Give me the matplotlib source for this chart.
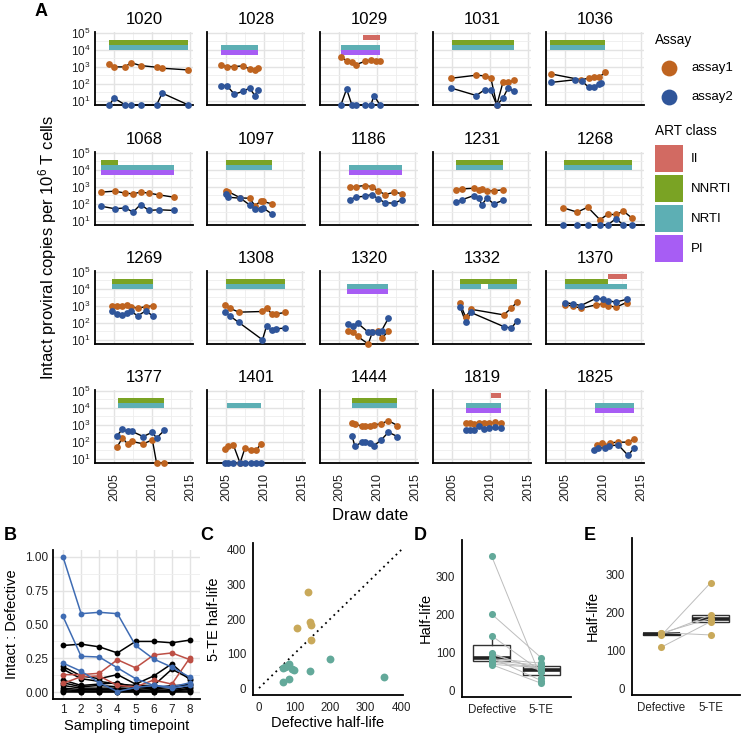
"""Intact proviral reservoir over time + half-life comparisons."""

import matplotlib

matplotlib.use("Agg")
import matplotlib.pyplot as plt
import numpy as np
from matplotlib.patches import Rectangle
from matplotlib.ticker import NullFormatter

plt.rcParams["font.family"] = ["Liberation Sans", "DejaVu Sans"]
plt.rcParams["mathtext.fontset"] = "custom"
plt.rcParams["mathtext.rm"] = "Liberation Sans"
plt.rcParams["mathtext.it"] = "Liberation Sans:italic"
plt.rcParams["mathtext.bf"] = "Liberation Sans:bold"

# --- data panel A (log10 copies per 1e6 T cells, None = undetected) ---
patients = ["1020", "1028", "1029", "1031", "1036",
            "1068", "1097", "1186", "1231", "1268",
            "1269", "1308", "1320", "1332", "1370",
            "1377", "1401", "1444", "1819", "1825"]

assay1_dates = [
    [2004.4, 2005.0, 2006.5, 2007.2, 2008.5, 2010.6, 2011.35, 2014.8],
    [2004.3, 2005.1, 2006.1, 2007.2, 2008.1, 2008.8, 2009.2],
    [2005.25, 2006.0, 2006.7, 2007.3, 2008.4, 2009.2, 2009.9, 2010.4],
    [2004.9, 2008.2, 2009.3, 2010.1, 2010.9, 2011.7, 2012.4, 2013.1],
    [2003.1, 2007.1, 2008.1, 2008.8, 2009.5, 2010.25],
    [2003.3, 2005.1, 2006.5, 2007.5, 2008.5, 2009.6, 2010.9, 2012.9],
    [2005.0, 2005.3, 2006.9, 2008.1, 2008.8, 2009.6, 2009.9, 2011.0],
    [2006.4, 2007.2, 2008.4, 2009.3, 2010.2, 2011.1, 2012.3, 2013.3],
    [2005.5, 2006.3, 2007.9, 2008.6, 2008.9, 2009.6, 2010.5, 2011.7],
    [2004.8, 2006.6, 2008.0, 2009.6, 2010.6, 2011.7, 2012.7, 2013.8],
    [2004.8, 2005.35, 2006.0, 2006.7, 2007.3, 2008.1, 2009.2, 2010.1],
    [2004.9, 2005.5, 2006.7, 2009.8, 2010.35, 2011.0, 2011.6, 2012.8],
    [2006.15, 2006.8, 2007.45, 2008.85, 2009.4, 2010.1, 2010.6, 2011.5],
    [2006.05, 2006.8, 2007.5, 2011.8, 2012.8, 2013.6],
    [2005.0, 2006.0, 2007.1, 2009.1, 2010.0, 2010.65, 2011.7, 2013.1],
    [2005.4, 2006.1, 2006.8, 2007.4, 2008.85, 2010.05, 2010.6, 2011.6],
    [2004.9, 2005.3, 2005.95, 2006.85, 2007.5, 2008.25, 2008.95, 2009.6],
    [2006.7, 2007.1, 2008.0, 2008.4, 2009.1, 2009.6, 2010.5, 2011.5, 2012.7],
    [2006.85, 2007.4, 2007.9, 2008.6, 2009.25, 2009.9, 2010.7, 2011.4],
    [2009.2, 2009.9, 2010.3, 2010.9, 2012.0, 2013.3, 2014.1],
]
assay1_log = [
    [3.16, 3.0, 3.0, 3.25, 3.08, 2.98, 2.92, 2.82],
    [3.12, 3.02, 3.02, 3.06, 2.88, 2.82, 2.96],
    [3.57, 3.37, 3.28, 3.14, 3.33, 3.41, 3.37, 3.35],
    [2.33, 2.51, 2.47, 2.37, None, 2.08, 2.08, 2.2],
    [2.59, 2.24, 2.33, 2.39, 2.39, 2.67],
    [2.69, 2.75, 2.63, 2.59, 2.69, 2.63, 2.53, 2.39],
    [2.78, 2.72, 2.35, 2.33, 1.9, 2.16, 2.14, 2.0],
    [2.98, 3.02, 3.08, 3.02, 2.75, 2.55, 2.69, 2.59],
    [2.84, 2.88, 2.92, 2.84, 2.88, 2.75, 2.78, 2.82],
    [1.76, 1.51, 1.8, 1.06, 1.37, 1.37, 1.57, 1.16],
    [3.0, 3.02, 3.0, 3.04, 2.96, 2.86, 2.96, 3.0],
    [3.06, 2.86, 2.63, 2.67, 2.88, 2.53, 2.53, 2.61],
    [1.53, 1.45, 1.2, None, 1.45, 1.53, 1.1, 1.49],
    [3.16, 2.33, 2.8, 2.47, 2.86, 3.25],
    [3.06, 3.0, 2.86, 3.06, 3.12, 3.02, 2.92, 3.2],
    [1.69, 2.22, 1.88, 2.02, 1.88, 2.12, None, None],
    [1.59, 1.75, 1.84, None, 1.63, 1.49, 1.49, 1.88],
    [3.12, 3.06, 2.92, 2.96, 2.92, 3.0, 3.06, 3.25, 2.96],
    [3.1, 3.1, 3.06, 3.12, 3.1, 3.1, 3.16, 3.1],
    [1.84, 1.94, 1.75, 1.94, 1.98, 1.98, 2.18],
]
assay2_dates = [
    [2004.4, 2005.0, 2006.5, 2007.2, 2008.5, 2010.6, 2011.35, 2014.8],
    [2004.3, 2005.1, 2006.1, 2007.2, 2008.1, 2008.8, 2009.2],
    [2005.25, 2006.0, 2006.7, 2007.3, 2008.4, 2009.2, 2009.6, 2010.4],
    [2004.9, 2008.2, 2009.3, 2010.1, 2010.9, 2011.7, 2012.4, 2013.1],
    [2003.1, 2006.3, 2007.2, 2008.1, 2008.8, 2009.5, 2009.8],
    [2003.3, 2005.1, 2006.5, 2007.5, 2008.5, 2009.6, 2010.9, 2012.9],
    [2004.95, 2005.3, 2006.9, 2008.1, 2008.8, 2009.6, 2009.9, 2011.0],
    [2006.4, 2007.2, 2008.4, 2009.3, 2010.2, 2011.1, 2012.3, 2013.3],
    [2005.5, 2006.3, 2007.9, 2008.6, 2008.9, 2009.6, 2010.5, 2011.7],
    [2004.8, 2006.6, 2008.0, 2009.6, 2010.6, 2011.7, 2012.7, 2013.8],
    [2004.8, 2005.35, 2006.0, 2006.7, 2007.3, 2008.1, 2009.2, 2010.1],
    [2004.9, 2005.5, 2006.7, 2009.8, 2010.35, 2011.0, 2011.6, 2012.8],
    [2006.15, 2006.8, 2007.45, 2008.85, 2009.4, 2010.1, 2010.6, 2011.5],
    [2006.05, 2006.8, 2007.5, 2011.8, 2012.8, 2013.6],
    [2005.0, 2006.0, 2007.1, 2009.1, 2010.0, 2010.65, 2011.7, 2013.1],
    [2005.4, 2006.1, 2006.8, 2007.4, 2008.85, 2010.05, 2010.6, 2011.6],
    [2004.9, 2005.3, 2005.95, 2006.85, 2007.5, 2008.25, 2008.95, 2009.6],
    [2006.7, 2007.1, 2008.0, 2008.4, 2009.1, 2009.6, 2010.5, 2011.5, 2012.7],
    [2006.85, 2007.4, 2007.9, 2008.6, 2009.25, 2009.9, 2010.7, 2011.4],
    [2008.85, 2009.3, 2010.25, 2010.8, 2012.0, 2013.3, 2014.1],
]
assay2_log = [
    [None, 1.16, None, None, None, None, 1.45, None],
    [1.88, 1.9, 1.39, 1.55, 1.75, 1.31, 1.65],
    [None, 1.69, None, None, None, None, 1.31, None],
    [1.75, 1.31, 1.65, 1.61, None, 1.14, 1.78, 1.55],
    [2.08, 2.24, 2.18, 1.8, 1.8, 2.0, 2.04],
    [1.86, 1.71, 1.76, 1.51, 1.96, 1.61, 1.65, 1.61],
    [2.59, 2.39, 2.33, 1.94, 1.67, 1.71, 1.76, 1.41],
    [2.25, 2.39, 2.45, 2.55, 2.29, 2.06, 2.04, 2.25],
    [2.1, 2.24, 2.49, 2.33, 1.94, 2.33, 2.0, 2.2],
    [None, None, None, None, None, 1.12, None, None],
    [2.67, 2.53, 2.47, 2.57, 2.67, 2.41, 2.71, 2.41],
    [2.63, 2.41, 2.02, 1.0, 1.82, 1.55, 1.65, 1.69],
    [1.94, 1.82, 1.98, 1.45, 1.45, 1.45, 1.53, 2.27],
    [2.96, 2.04, 2.61, 1.78, 1.69, 2.12],
    [3.2, 3.12, 3.02, 3.45, 3.39, 3.31, 3.22, 3.39],
    [2.37, 2.73, 2.61, 2.61, 2.31, 2.57, 2.22, 2.67],
    [None, None, None, None, None, None, None, None],
    [2.37, 1.73, 1.98, 1.98, 1.92, 1.78, 2.08, 2.57, 2.31],
    [2.71, 2.67, 2.67, 2.92, 2.73, 2.82, 2.86, 2.8],
    [1.53, 1.63, 1.65, 1.75, 1.82, 1.2, 1.63],
]

# ART regimen segments
art_pid = ["1020", "1020", "1020", "1028", "1028", "1029", "1029", "1029",
           "1031", "1031", "1036", "1036", "1068", "1068", "1068",
           "1097", "1097", "1186", "1186", "1231", "1231", "1231",
           "1268", "1268", "1269", "1269", "1308", "1308", "1320", "1320",
           "1332", "1332", "1332", "1370", "1370", "1370", "1377", "1377",
           "1401", "1444", "1444", "1819", "1819", "1819",
           "1825", "1825", "1825"]
art_class = ["NNRTI", "NRTI", "NRTI", "NRTI", "PI", "II", "NRTI", "PI",
             "NNRTI", "NRTI", "NNRTI", "NRTI", "NNRTI", "NRTI", "PI",
             "NNRTI", "NRTI", "NRTI", "PI", "NNRTI", "NRTI", "NRTI",
             "NNRTI", "NRTI", "NNRTI", "NRTI", "NNRTI", "NRTI", "NRTI", "PI",
             "NNRTI", "NRTI", "NRTI", "II", "NNRTI", "NRTI", "NNRTI", "NRTI",
             "NRTI", "NNRTI", "NRTI", "II", "NRTI", "PI",
             "NRTI", "NRTI", "PI"]
art_start = [2004.4, 2004.4, 2009.4, 2004.3, 2004.3, 2008.1, 2005.25, 2005.25,
             2004.95, 2004.95, 2003.05, 2003.05, 2003.3, 2003.3, 2003.3,
             2005.0, 2005.0, 2006.35, 2006.35, 2005.5, 2005.5, 2008.85,
             2004.85, 2004.85, 2004.8, 2004.8, 2004.95, 2004.95, 2006.1, 2006.1,
             2006.1, 2006.1, 2009.7, 2010.65, 2004.95, 2004.95, 2005.55, 2005.55,
             2005.1, 2006.75, 2006.75, 2010.2, 2006.85, 2006.85,
             2009.0, 2013.2, 2009.0]
art_end = [2014.8, 2009.3, 2014.8, 2009.2, 2009.2, 2010.4, 2010.4, 2010.4,
           2013.1, 2013.1, 2010.3, 2010.3, 2005.5, 2012.9, 2012.9,
           2011.0, 2011.0, 2013.3, 2013.3, 2011.7, 2008.8, 2011.7,
           2013.8, 2013.8, 2010.1, 2010.1, 2012.8, 2012.8, 2011.5, 2011.5,
           2013.6, 2008.8, 2013.6, 2013.1, 2010.65, 2013.1, 2011.6, 2011.6,
           2009.6, 2012.7, 2012.7, 2011.4, 2011.4, 2011.4,
           2013.1, 2014.1, 2014.1]

art_levels = ["II", "NNRTI", "NRTI", "PI"]
art_colors = ["#D26A62", "#7AA324", "#5DAFB4", "#A75DF4"]
art_center = {"II": 4.74, "NNRTI": 4.45, "NRTI": 4.16, "PI": 3.87}  # log10 row
assay_colors = ["#BF6420", "#2F559A"]

# --- data panel B ---
timepoints = [1, 2, 3, 4, 5, 6, 7, 8]
ratio_blue = [
    [1.00, 0.58, 0.59, 0.58, 0.345, 0.245, 0.185, 0.11],
    [0.56, 0.265, 0.26, 0.18, 0.10, 0.05, 0.03, 0.05],
    [0.215, 0.155, 0.07, 0.005, 0.035, 0.05, 0.04, 0.07],
]
ratio_red = [
    [0.13, 0.13, 0.14, 0.24, 0.18, 0.275, 0.29, 0.24],
    [0.065, 0.115, 0.12, 0.05, 0.04, 0.09, 0.06, 0.255],
]
ratio_black = [
    [0.345, 0.355, 0.335, 0.29, 0.375, 0.375, 0.365, 0.385],
    [0.19, 0.12, 0.10, 0.13, 0.06, 0.12, 0.21, 0.09],
    [0.17, 0.10, 0.08, 0.06, 0.05, 0.05, 0.17, 0.10],
    [0.09, 0.05, 0.06, 0.07, 0.03, 0.04, 0.04, 0.06],
    [0.07, 0.04, 0.05, 0.04, 0.04, 0.03, 0.05, 0.05],
    [0.05, 0.03, 0.03, 0.03, 0.02, 0.03, 0.02, 0.04],
    [0.03, 0.02, 0.02, 0.02, 0.01, 0.02, 0.01, 0.03],
    [0.02, 0.01, 0.01, 0.01, 0.01, 0.01, 0.01, 0.02],
    [0.01, 0.005, 0.005, 0.005, 0.005, 0.005, 0.005, 0.01],
    [0.0, 0.0, 0.0, 0.0, 0.0, 0.0, 0.0, 0.0],
]

# --- data panels C-E (half-lives) ---
gold_defective = [139, 142, 145, 108, 146]
gold_5te = [277, 192, 183, 175, 140]
teal_defective = [200, 352, 143, 83, 73, 94, 97, 85, 67, 68, 78]
teal_5te = [85, 31, 49, 71, 60, 54, 51, 25, 18, 59, 65]
gold = "#C9A95A"
teal = "#63A99A"

W, H = 744, 739
fig = plt.figure(figsize=(W / 100, H / 100), dpi=100)


def px_axes(left, top, right, bottom):
    return fig.add_axes([left / W, 1 - bottom / H, (right - left) / W, (bottom - top) / H])


def ftext(x, y, s, **kw):
    fig.text(x / W, 1 - y / H, s, **kw)


def style_axes(ax, grid=False):
    for side in ["top", "right"]:
        ax.spines[side].set_visible(False)
    for side in ["left", "bottom"]:
        ax.spines[side].set_color("black")
        ax.spines[side].set_linewidth(1.3)
    ax.tick_params(which="both", length=0, labelsize=8.5, colors="#222222")
    if grid:
        ax.grid(which="major", color="#E3E3E3", lw=1.0)
        ax.grid(which="minor", color="#EEEEEE", lw=0.6)
        ax.set_axisbelow(True)


# --- Panel A ---
FLOOR = 10 ** 0.75
col_left = [95, 207, 320, 433, 546]
row_top = [33, 153, 272, 391]

for i, pid in enumerate(patients):
    r, c = divmod(i, 5)
    ax = px_axes(col_left[c], row_top[r] - 1, col_left[c] + 98, row_top[r] + 72)
    ax.set_yscale("log")
    ax.set_ylim(FLOOR, 10 ** 5.06)
    ax.set_xlim(2002.5, 2015.4)
    ax.set_yticks([1e1, 1e2, 1e3, 1e4, 1e5])
    ax.set_yticks(10 ** np.arange(1.5, 5.0, 1.0), minor=True)
    ax.yaxis.set_minor_formatter(NullFormatter())
    ax.set_xticks([2005, 2010, 2015])
    ax.set_xticks([2002.5, 2007.5, 2012.5], minor=True)
    style_axes(ax, grid=True)
    if c == 0:
        ax.set_yticklabels([r"$10^{%d}$" % k for k in range(1, 6)], fontsize=8.5)
    else:
        ax.set_yticklabels([])
    if r == 3:
        ax.set_xticklabels(["2005", "2010", "2015"], rotation=90, fontsize=9)
        ax.tick_params(axis="x", pad=7)
    else:
        ax.set_xticklabels([])
    ax.set_title(pid, fontsize=12, pad=6)

    for p, cls, s, e in zip(art_pid, art_class, art_start, art_end):
        if p != pid:
            continue
        ctr = art_center[cls]
        ax.fill_between([s, e], 10 ** (ctr - 0.145), 10 ** (ctr + 0.145),
                        color=art_colors[art_levels.index(cls)], lw=0, zorder=2)

    series = [(assay1_dates[i], assay1_log[i], assay_colors[0]),
              (assay2_dates[i], assay2_log[i], assay_colors[1])]
    for dates, logs, col in series:
        vals = [FLOOR if v is None else 10 ** v for v in logs]
        ax.plot(dates, vals, color="black", lw=1.0, zorder=3, clip_on=False)
        ax.scatter(dates, vals, s=24, color=col, zorder=4, clip_on=False, lw=0)

ftext(48, 247, "Intact proviral copies per $10^{6}$ T cells", rotation=90,
      ha="center", va="center", fontsize=12)
ftext(370, 516, "Draw date", ha="center", va="center", fontsize=12)

# legend
lax = fig.add_axes([0, 0, 1, 1])
lax.set_xlim(0, W)
lax.set_ylim(H, 0)
lax.axis("off")
lax.text(655, 40, "Assay", fontsize=9.8, va="center")
for k, lab in enumerate(["assay1", "assay2"]):
    lax.scatter([669], [68 + 29 * k], s=130, color=assay_colors[k], lw=0)
    lax.text(691, 68 + 29 * k, lab, fontsize=9.5, va="center")
lax.text(655, 131, "ART class", fontsize=9.8, va="center")
for k, lab in enumerate(art_levels):
    lax.add_patch(Rectangle((655, 145 + 30 * k), 28, 27, color=art_colors[k], lw=0))
    lax.text(691, 159 + 30 * k, lab, fontsize=9.5, va="center")

# panel letters
for lab, x, y in [("A", 41, 12), ("B", 10, 535), ("C", 207, 535), ("D", 420, 535), ("E", 590, 535)]:
    ftext(x, y, lab, fontsize=13, fontweight="bold", ha="center", va="center")

# --- Panel B ---
axb = px_axes(53, 550, 200, 699)
axb.set_xlim(0.45, 8.55)
axb.set_ylim(-0.05, 1.05)
axb.set_xticks(timepoints)
axb.set_yticks([0, 0.25, 0.5, 0.75, 1.0])
axb.set_yticks([0.125, 0.375, 0.625, 0.875], minor=True)
axb.set_yticklabels(["0.00", "0.25", "0.50", "0.75", "1.00"])
style_axes(axb, grid=True)
for vals in ratio_black:
    axb.plot(timepoints, vals, color="black", lw=1.1, marker="o", ms=4.2, mew=0)
for vals in ratio_red:
    axb.plot(timepoints, vals, color="#BD4F45", lw=1.1, marker="o", ms=4.2, mew=0)
for vals in ratio_blue:
    axb.plot(timepoints, vals, color="#3F6CB3", lw=1.1, marker="o", ms=4.2, mew=0)
ftext(12, 624, "Intact : Defective", rotation=90, ha="center", va="center", fontsize=10.5)
ftext(127, 726, "Sampling timepoint", ha="center", va="center", fontsize=10.5)

# --- Panel C ---
axc = px_axes(253, 543, 403, 695)
axc.set_xlim(-17, 405)
axc.set_ylim(-20, 420)
axc.set_xticks([0, 100, 200, 300, 400])
axc.set_yticks([0, 100, 200, 300, 400])
style_axes(axc)
axc.tick_params(labelsize=8.3, pad=5)
top = axc.get_ylim()[1]
axc.plot([0, top], [0, top], color="black", lw=1.3, ls=(0, (1, 2.2)))
axc.scatter(teal_defective, teal_5te, s=32, color=teal, lw=0, zorder=3)
axc.scatter(gold_defective, gold_5te, s=32, color=gold, lw=0, zorder=3)
ftext(328, 723, "Defective half-life", ha="center", va="center", fontsize=10.5)
ftext(214, 619, "5-TE half-life", rotation=90, ha="center", va="center", fontsize=10.5)


# --- Panels D and E ---
def paired_box(ax, before, after, col):
    ax.boxplot([before, after], positions=[1, 2], widths=0.75, showfliers=False,
               showcaps=False, patch_artist=True,
               boxprops=dict(facecolor="none", edgecolor="#333333", lw=1.0),
               medianprops=dict(color="#222222", lw=2.6),
               whiskerprops=dict(color="#333333", lw=1.0))
    for b, a in zip(before, after):
        ax.plot([1, 2], [b, a], color="#BDBDBD", lw=0.7, zorder=3)
    ax.scatter([1] * len(before), before, s=26, color=col, lw=0, zorder=4)
    ax.scatter([2] * len(after), after, s=26, color=col, lw=0, zorder=4)
    ax.set_xlim(0.4, 2.6)
    ax.set_ylim(-18, 395)
    ax.set_yticks([0, 100, 200, 300])
    ax.set_xticks([1, 2])
    ax.set_xticklabels(["Defective", "5-TE"])
    style_axes(ax)
    ax.tick_params(labelsize=8.3, pad=5)


axd = px_axes(462, 540, 571, 697)
paired_box(axd, teal_defective, teal_5te, teal)
ftext(426, 618, "Half-life", rotation=90, ha="center", va="center", fontsize=10.5)

axe = px_axes(632, 538, 740, 695)
paired_box(axe, gold_defective, gold_5te, gold)
ftext(593, 616, "Half-life", rotation=90, ha="center", va="center", fontsize=10.5)

fig.savefig("out.png", dpi=100)
